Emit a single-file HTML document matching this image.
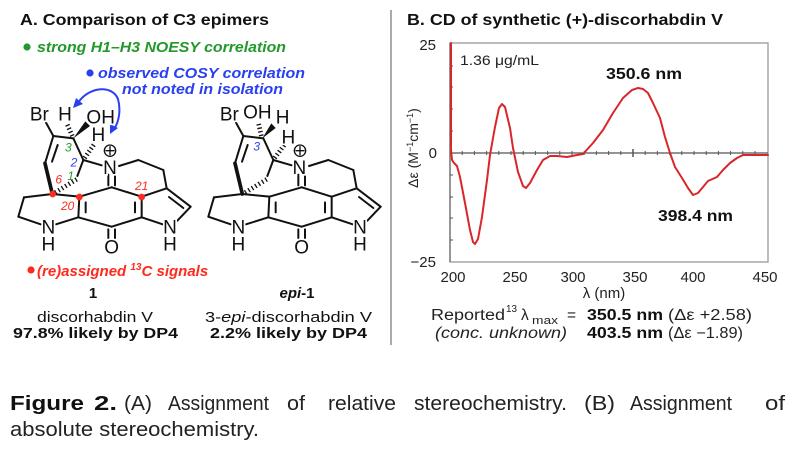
<!DOCTYPE html>
<html><head><meta charset="utf-8">
<style>
html,body{margin:0;padding:0;background:#fff;}
svg{display:block;}
svg, svg text{font-family:"Liberation Sans",Arial,Helvetica,sans-serif;}
</style></head>
<body>
<svg width="796" height="449" viewBox="0 0 796 449" xmlns="http://www.w3.org/2000/svg" font-family="'Liberation Sans', Arial, Helvetica, sans-serif">
<rect width="796" height="449" fill="#fff"/>

<!-- Panel A header texts -->
<text x="20" y="25" font-size="16" font-weight="bold" fill="#111" textLength="249" lengthAdjust="spacingAndGlyphs">A. Comparison of C3 epimers</text>
<circle cx="27" cy="47" r="3.6" fill="#22992a"/>
<text x="37" y="52" font-size="15" font-weight="bold" font-style="italic" fill="#22992a" textLength="249" lengthAdjust="spacingAndGlyphs">strong H1–H3 NOESY correlation</text>
<circle cx="90" cy="73" r="3.6" fill="#2a40f0"/>
<text x="98" y="78" font-size="15" font-weight="bold" font-style="italic" fill="#2a40f0" textLength="207" lengthAdjust="spacingAndGlyphs">observed COSY correlation</text>
<text x="122" y="94" font-size="15" font-weight="bold" font-style="italic" fill="#2a40f0" textLength="161" lengthAdjust="spacingAndGlyphs">not noted in isolation</text>

<!-- blue double-headed arrow -->
<path d="M78,103 C88,87 112,84 118,99 C121,110 119,122 114,129" fill="none" stroke="#2a40f0" stroke-width="2"/>
<polygon points="73,108 76,98 83,104" fill="#2a40f0"/>
<polygon points="110,134 110,124 118,128" fill="#2a40f0"/>

<!-- Molecule 1 -->
<g transform="translate(0,90) scale(0.33333)" stroke="#111" stroke-width="6" fill="none" stroke-linecap="round">
  <g id="skel">
  <line x1="138" y1="98" x2="160" y2="138"/>
  <line x1="160" y1="138" x2="220" y2="145"/>
  <line x1="160" y1="138" x2="135" y2="220"/>
  <line x1="173" y1="165" x2="156" y2="215"/>
  <line x1="135" y1="220" x2="157" y2="312" stroke-width="11"/>
  <line x1="220" y1="145" x2="250" y2="210"/>
  <line x1="250" y1="210" x2="305" y2="226"/>
  <line x1="250" y1="210" x2="232" y2="258"/>
  <line x1="230" y1="268" x2="165" y2="308" stroke-dasharray="4 8" stroke-width="14" stroke-linecap="butt"/>
  <line x1="325" y1="254" x2="325" y2="286"/>
  <line x1="345" y1="254" x2="345" y2="286"/>
  <line x1="335" y1="292" x2="238" y2="320"/>
  <line x1="335" y1="292" x2="425" y2="320"/>
  <line x1="157" y1="312" x2="238" y2="320"/>
  <line x1="157" y1="312" x2="72" y2="322"/>
  <line x1="72" y1="322" x2="55" y2="380"/>
  <line x1="55" y1="380" x2="122" y2="403"/>
  <line x1="168" y1="403" x2="235" y2="382"/>
  <line x1="238" y1="320" x2="235" y2="382"/>
  <line x1="257" y1="337" x2="257" y2="367"/>
  <line x1="235" y1="382" x2="335" y2="410"/>
  <line x1="335" y1="410" x2="425" y2="382"/>
  <line x1="325" y1="418" x2="325" y2="444"/>
  <line x1="345" y1="418" x2="345" y2="444"/>
  <line x1="425" y1="382" x2="425" y2="320"/>
  <line x1="405" y1="337" x2="405" y2="367"/>
  <line x1="425" y1="382" x2="488" y2="403"/>
  <line x1="425" y1="320" x2="500" y2="295"/>
  <line x1="500" y1="295" x2="572" y2="350"/>
  <line x1="507" y1="321" x2="550" y2="354"/>
  <line x1="572" y1="350" x2="532" y2="392"/>
  <line x1="500" y1="295" x2="490" y2="240"/>
  <line x1="490" y1="240" x2="415" y2="210"/>
  <line x1="415" y1="210" x2="357" y2="228"/>
  </g>
  <line x1="217" y1="138" x2="201" y2="102" stroke-dasharray="4 7" stroke-width="14" stroke-linecap="butt"/>
  <polygon points="220,145 256,94 270,108" fill="#111" stroke="none"/>
  <line x1="254" y1="204" x2="283" y2="162" stroke-dasharray="4 7" stroke-width="14" stroke-linecap="butt"/>
  <circle cx="330" cy="182" r="17" stroke-width="4"/>
  <line x1="318" y1="182" x2="342" y2="182" stroke-width="4"/>
  <line x1="330" y1="170" x2="330" y2="194" stroke-width="4"/>
  <g stroke="none" fill="#ff2a1e">
    <circle cx="158" cy="312" r="10"/>
    <circle cx="238" cy="321" r="10"/>
    <circle cx="425" cy="321" r="10"/>
  </g>
  <g stroke="#fff" stroke-width="10" paint-order="stroke" fill="#111" font-size="57" text-anchor="middle">
    <text x="118" y="92">Br</text>
    <text x="195" y="92">H</text>
    <text x="302" y="100">OH</text>
    <text x="295" y="153">H</text>
    <text x="330" y="252">N</text>
    <text x="145" y="430">N</text>
    <text x="145" y="482">H</text>
    <text x="510" y="430">N</text>
    <text x="510" y="482">H</text>
    <text x="335" y="490">O</text>
  </g>
  <g stroke="none" font-size="36" font-style="italic" text-anchor="middle">
    <text x="205" y="185" fill="#22992a">3</text>
    <text x="222" y="230" fill="#2a40f0">2</text>
    <text x="212" y="270" fill="#22992a">1</text>
    <text x="176" y="280" fill="#ff2a1e">6</text>
    <text x="203" y="360" fill="#ff2a1e">20</text>
    <text x="425" y="300" fill="#ff2a1e">21</text>
  </g>
</g>

<!-- Molecule 2 -->
<g transform="translate(190,90) scale(0.33333)" stroke="#111" stroke-width="6" fill="none" stroke-linecap="round">
  <use href="#skel"/>
  <line x1="214" y1="138" x2="205" y2="98" stroke-dasharray="4 7" stroke-width="14" stroke-linecap="butt"/>
  <polygon points="217,145 244,100 257,114" fill="#111" stroke="none"/>
  <line x1="254" y1="204" x2="285" y2="162" stroke-dasharray="4 7" stroke-width="14" stroke-linecap="butt"/>
  <circle cx="330" cy="182" r="17" stroke-width="4"/>
  <line x1="318" y1="182" x2="342" y2="182" stroke-width="4"/>
  <line x1="330" y1="170" x2="330" y2="194" stroke-width="4"/>
  <g stroke="#fff" stroke-width="10" paint-order="stroke" fill="#111" font-size="57" text-anchor="middle">
    <text x="118" y="92">Br</text>
    <text x="202" y="86">OH</text>
    <text x="278" y="100">H</text>
    <text x="295" y="160">H</text>
    <text x="328" y="252">N</text>
    <text x="145" y="430">N</text>
    <text x="145" y="482">H</text>
    <text x="510" y="430">N</text>
    <text x="510" y="482">H</text>
    <text x="335" y="490">O</text>
  </g>
  <text x="200" y="182" stroke="none" fill="#2a40f0" font-size="36" font-style="italic" text-anchor="middle">3</text>
</g>

<!-- Panel A bottom texts -->
<circle cx="31" cy="270" r="3.6" fill="#ff2a1e"/>
<text x="37" y="276" font-size="15" font-weight="bold" font-style="italic" fill="#ff2a1e">(re)assigned <tspan font-size="10" dy="-6">13</tspan><tspan dy="6">C signals</tspan></text>
<text x="93" y="298" font-size="15" font-weight="bold" fill="#111" text-anchor="middle">1</text>
<text x="37" y="322" font-size="15" fill="#111" textLength="116" lengthAdjust="spacingAndGlyphs">discorhabdin V</text>
<text x="13" y="338" font-size="15" font-weight="bold" fill="#111" textLength="165" lengthAdjust="spacingAndGlyphs">97.8% likely by DP4</text>
<text x="297" y="298" font-size="15" font-weight="bold" fill="#111" text-anchor="middle"><tspan font-style="italic">epi</tspan>-1</text>
<text x="205" y="322" font-size="15" fill="#111" textLength="167" lengthAdjust="spacingAndGlyphs">3-<tspan font-style="italic">epi</tspan>-discorhabdin V</text>
<text x="210" y="338" font-size="15" font-weight="bold" fill="#111" textLength="157" lengthAdjust="spacingAndGlyphs">2.2% likely by DP4</text>

<!-- separator -->
<line x1="391" y1="10" x2="391" y2="345" stroke="#aaa" stroke-width="2"/>

<!-- Panel B -->
<text x="407" y="25" font-size="16" font-weight="bold" fill="#111" textLength="316" lengthAdjust="spacingAndGlyphs">B. CD of synthetic (+)-discorhabdin V</text>

<rect x="450" y="43" width="318" height="219" fill="none" stroke="#999" stroke-width="1.3"/>
<line x1="450" y1="43" x2="450" y2="262" stroke="#777" stroke-width="1.4"/>
<line x1="450" y1="153" x2="768" y2="153" stroke="#555" stroke-width="1.2"/>
<g stroke="#555" stroke-width="1">
  <line x1="462.2" y1="151" x2="462.2" y2="155"/>
  <line x1="474.4" y1="151" x2="474.4" y2="155"/>
  <line x1="486.6" y1="151" x2="486.6" y2="155"/>
  <line x1="498.8" y1="151" x2="498.8" y2="155"/>
  <line x1="511" y1="151" x2="511" y2="155"/>
  <line x1="523.2" y1="151" x2="523.2" y2="155"/>
  <line x1="535.4" y1="151" x2="535.4" y2="155"/>
  <line x1="547.6" y1="151" x2="547.6" y2="155"/>
  <line x1="559.8" y1="151" x2="559.8" y2="155"/>
  <line x1="572" y1="151" x2="572" y2="155"/>
  <line x1="584.2" y1="151" x2="584.2" y2="155"/>
  <line x1="596.4" y1="151" x2="596.4" y2="155"/>
  <line x1="608.6" y1="151" x2="608.6" y2="155"/>
  <line x1="620.8" y1="151" x2="620.8" y2="155"/>
  <line x1="633" y1="149" x2="633" y2="157" stroke-width="1.5"/>
  <line x1="645.2" y1="151" x2="645.2" y2="155"/>
  <line x1="657.4" y1="151" x2="657.4" y2="155"/>
  <line x1="669.6" y1="151" x2="669.6" y2="155"/>
  <line x1="681.8" y1="151" x2="681.8" y2="155"/>
  <line x1="694" y1="151" x2="694" y2="155"/>
  <line x1="706.2" y1="151" x2="706.2" y2="155"/>
  <line x1="718.4" y1="151" x2="718.4" y2="155"/>
  <line x1="730.6" y1="151" x2="730.6" y2="155"/>
  <line x1="742.8" y1="151" x2="742.8" y2="155"/>
  <line x1="755" y1="151" x2="755" y2="155"/>
  <line x1="450" y1="66" x2="453" y2="66"/>
  <line x1="450" y1="87" x2="453" y2="87"/>
  <line x1="450" y1="109" x2="453" y2="109"/>
  <line x1="450" y1="131" x2="453" y2="131"/>
  <line x1="450" y1="175" x2="453" y2="175"/>
  <line x1="450" y1="197" x2="453" y2="197"/>
  <line x1="450" y1="218" x2="453" y2="218"/>
  <line x1="450" y1="240" x2="453" y2="240"/>
</g>

<polyline fill="none" stroke="#d9262a" stroke-width="2" stroke-linejoin="round" stroke-linecap="round"
 points="451,43 451,150 452,160 454,163 457,166 460,177 465,203 470,230 473,242 475,244 478,239 482,217 487,180 490,155 495,127 499,108 502,104 505,107 510,128 513,148 518,172 523,186 526,188 530,183 537,170 543,160 550,156 557,156 567,157 577,155 583,154 593,143 603,130 613,113 623,98 632,90 638,88 643,89 648,93 653,103 660,118 665,137 670,153 675,167 682,178 688,188 693,195 698,193 703,187 708,181 717,177 723,170 730,163 737,158 743,155 768,155"/>

<text x="460" y="65" font-size="14" fill="#222" textLength="79" lengthAdjust="spacingAndGlyphs">1.36 μg/mL</text>
<text x="606" y="79" font-size="16" font-weight="bold" fill="#111" textLength="76" lengthAdjust="spacingAndGlyphs">350.6 nm</text>
<text x="658" y="221" font-size="16" font-weight="bold" fill="#111" textLength="75" lengthAdjust="spacingAndGlyphs">398.4 nm</text>

<g font-size="15" fill="#222" text-anchor="end">
  <text x="436" y="50">25</text>
  <text x="437" y="158">0</text>
  <text x="436" y="267">−25</text>
</g>
<g font-size="15" fill="#222" text-anchor="middle">
  <text x="453" y="282">200</text>
  <text x="515" y="282">250</text>
  <text x="573" y="282">300</text>
  <text x="635" y="282">350</text>
  <text x="693" y="282">400</text>
  <text x="765" y="282">450</text>
  <text x="604" y="298">λ (nm)</text>
</g>
<text transform="translate(418,148) rotate(-90)" font-size="14" fill="#222" text-anchor="middle">Δε (M<tspan font-size="9" dy="-5">−1</tspan><tspan dy="5">cm</tspan><tspan font-size="9" dy="-5">−1</tspan><tspan dy="5">)</tspan></text>

<!-- reported values -->
<g font-size="15.5" fill="#222">
  <text x="431" y="320" textLength="74" lengthAdjust="spacingAndGlyphs">Reported</text>
  <text x="506" y="312" font-size="10" textLength="11" lengthAdjust="spacingAndGlyphs">13</text>
  <text x="521" y="320">λ</text>
  <text x="532" y="324" font-size="11" textLength="26" lengthAdjust="spacingAndGlyphs">max</text>
  <text x="567" y="320">=</text>
  <text x="587" y="320" font-weight="bold" fill="#111" textLength="76" lengthAdjust="spacingAndGlyphs">350.5 nm</text>
  <text x="668" y="320" textLength="84" lengthAdjust="spacingAndGlyphs">(Δε +2.58)</text>
  <text x="435" y="338" font-style="italic" textLength="132" lengthAdjust="spacingAndGlyphs">(conc. unknown)</text>
  <text x="587" y="338" font-weight="bold" fill="#111" textLength="76" lengthAdjust="spacingAndGlyphs">403.5 nm</text>
  <text x="668" y="338" textLength="75" lengthAdjust="spacingAndGlyphs">(Δε −1.89)</text>
</g>

<!-- caption -->
<g font-size="20" fill="#222">
  <text x="10" y="410" font-weight="bold" fill="#111" textLength="74" lengthAdjust="spacingAndGlyphs">Figure</text>
  <text x="94" y="410" font-weight="bold" fill="#111" textLength="23" lengthAdjust="spacingAndGlyphs">2.</text>
  <text x="124" y="410" textLength="28" lengthAdjust="spacingAndGlyphs">(A)</text>
  <text x="168" y="410" textLength="101" lengthAdjust="spacingAndGlyphs">Assignment</text>
  <text x="287" y="410" textLength="18" lengthAdjust="spacingAndGlyphs">of</text>
  <text x="328" y="410" textLength="68" lengthAdjust="spacingAndGlyphs">relative</text>
  <text x="414" y="410" textLength="153" lengthAdjust="spacingAndGlyphs">stereochemistry.</text>
  <text x="584" y="410" textLength="31" lengthAdjust="spacingAndGlyphs">(B)</text>
  <text x="630" y="410" textLength="102" lengthAdjust="spacingAndGlyphs">Assignment</text>
  <text x="765" y="410" textLength="20" lengthAdjust="spacingAndGlyphs">of</text>
  <text x="10" y="436" textLength="249" lengthAdjust="spacingAndGlyphs">absolute stereochemistry.</text>
</g>
</svg>
</body></html>
